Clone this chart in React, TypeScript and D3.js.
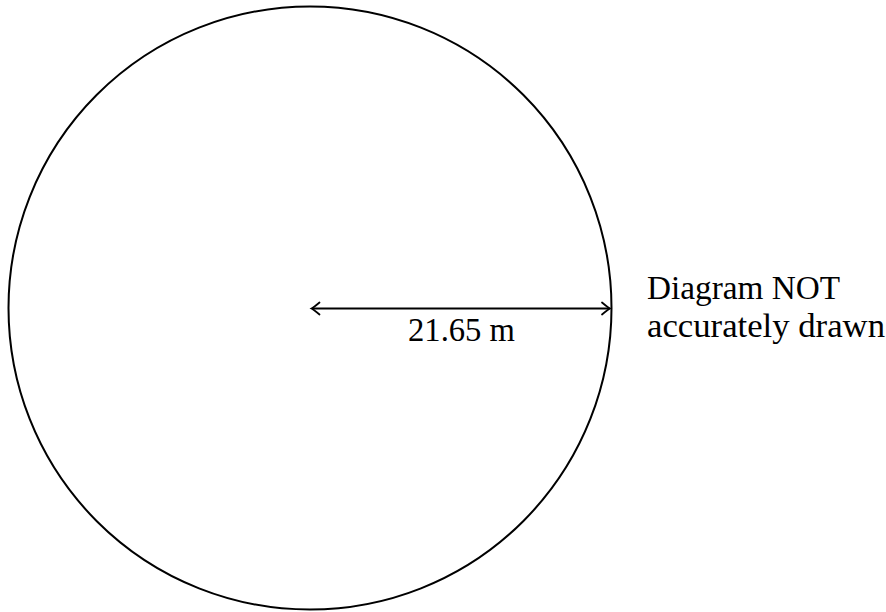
import React from "react";
import * as d3 from "d3";

// diagram values
const radiusMeters = [21.65];
const radiusLabels = ["21.65 m"];
const noteLines = ["Diagram NOT", "accurately drawn"];

const W = 886;
const H = 612;
const cx = 310;
const cy = 308;
const rPx = 301.5;

const App = () => {
  // meters -> pixels, so the radius draws to the edge of the circle
  const scale = d3.scaleLinear().domain([0, radiusMeters[0]]).range([0, rPx]);
  const r = scale(radiusMeters[0]);

  const font = "'Liberation Serif', 'DejaVu Serif', serif";
  const arrowY = cy + 0.5;

  // chevron arrowhead like the latex default
  const head = d3.path();
  head.moveTo(-8, -6);
  head.quadraticCurveTo(-2, -1, 0, 0);
  head.quadraticCurveTo(-2, 1, -8, 6);

  return (
    <svg
      width={W}
      height={H}
      style={{ position: "absolute", left: 0, top: 0, background: "#fff" }}
    >
      <circle cx={cx} cy={cy} r={r} fill="none" stroke="#000" strokeWidth={2} />

      <line
        x1={cx + 2}
        x2={cx + r - 2}
        y1={arrowY}
        y2={arrowY}
        stroke="#000"
        strokeWidth={2}
      />
      <path
        d={head.toString()}
        transform={`translate(${cx + r - 1.5},${arrowY})`}
        fill="none"
        stroke="#000"
        strokeWidth={1.8}
        strokeLinecap="round"
      />
      <path
        d={head.toString()}
        transform={`translate(${cx + 1.5},${arrowY}) scale(-1,1)`}
        fill="none"
        stroke="#000"
        strokeWidth={1.8}
        strokeLinecap="round"
      />

      <text
        x={408}
        y={341}
        fontFamily={font}
        fontSize={33}
        textLength={107}
        lengthAdjust="spacingAndGlyphs"
      >
        {radiusLabels[0]}
      </text>

      {noteLines.map((t, i) => (
        <text
          key={t}
          x={647}
          y={299 + i * 38}
          fontFamily={font}
          fontSize={33}
          textLength={i === 0 ? 193 : 238}
          lengthAdjust="spacingAndGlyphs"
        >
          {t}
        </text>
      ))}
    </svg>
  );
};

export default App;
